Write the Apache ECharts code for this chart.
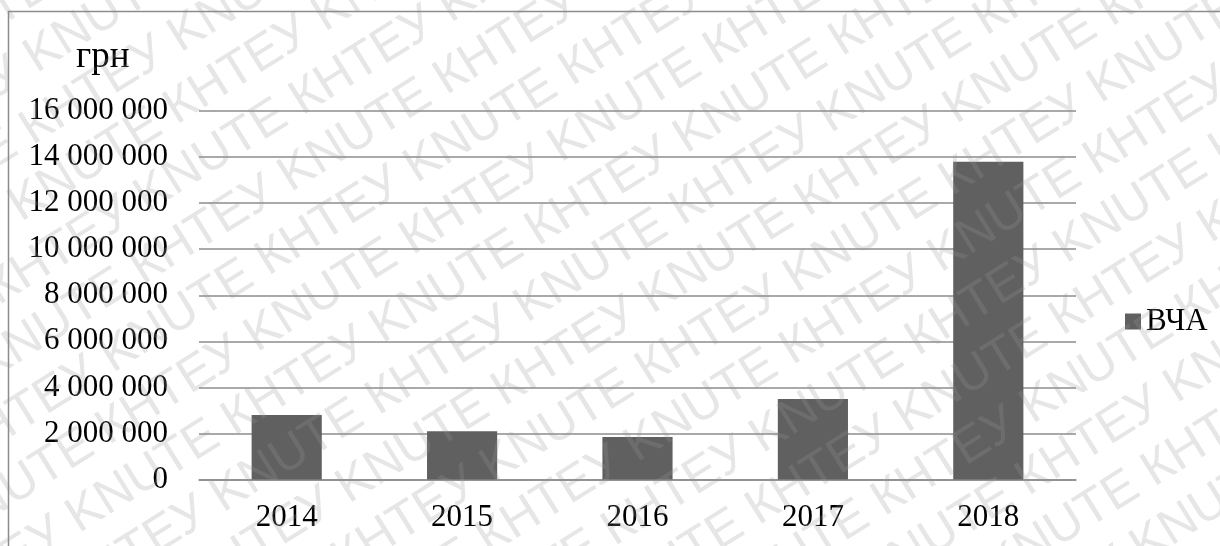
<!DOCTYPE html>
<html>
<head>
<meta charset="utf-8">
<script src="https://cdn.jsdelivr.net/npm/echarts@6/dist/echarts.min.js"></script>
<style>
html,body{margin:0;padding:0;background:#fff;}
#chart{width:1220px;height:546px;}
</style>
</head>
<body>
<div id="chart"></div>
<script>
var categories = ['2014', '2015', '2016', '2017', '2018'];
var seriesName = 'ВЧА';
var values = [2800000, 2100000, 1850000, 3500000, 13800000];
var yUnit = 'грн';
var yMin = 0, yMax = 16000000, yStep = 2000000;

function fmt(v) {
  return String(v).replace(/\B(?=(\d{3})+(?!\d))/g, ' ');
}

// watermark (decorative background text)
var wm = [];
var ang = 32 * Math.PI / 180;
var rowText = '';
for (var r = 0; r < 7; r++) rowText += 'KNUTE КНТЕУ ';
for (var k = 0; k < 32; k++) {
  var s = (k * 170) % 380;
  wm.push({
    type: 'text',
    x: -600 + s * Math.cos(ang),
    y: -200 + k * 69.5 - s * Math.sin(ang),
    rotation: ang,
    silent: true,
    z: 100,
    style: {
      text: rowText,
      fontSize: 50,
      fontFamily: 'Liberation Sans',
      fontWeight: 'normal',
      fill: 'rgba(150,150,150,0.24)'
    }
  });
}

var chart = echarts.init(document.getElementById('chart'), null, {renderer: 'canvas'});
var option = {
  backgroundColor: '#ffffff',
  animation: false,
  textStyle: {fontFamily: '"Liberation Serif", "Times New Roman", serif', color: '#000'},
  title: {
    text: yUnit,
    left: 71,
    top: 34,
    textStyle: {fontFamily: '"Liberation Serif", serif', fontSize: 37, fontWeight: 'normal', color: '#000'}
  },
  legend: {
    data: [seriesName],
    left: 1120,
    top: 301,
    icon: 'rect',
    itemWidth: 16,
    itemHeight: 16,
    itemGap: 6,
    textStyle: {fontFamily: '"Liberation Serif", serif', fontSize: 31, color: '#000'}
  },
  grid: {left: 199, right: 144, top: 111, bottom: 66.5, containLabel: false},
  xAxis: {
    type: 'category',
    data: categories,
    axisTick: {show: false},
    axisLine: {lineStyle: {color: '#8c8c8c', width: 1.5}},
    axisLabel: {fontFamily: '"Liberation Serif", serif', fontSize: 31, color: '#000', margin: 23}
  },
  yAxis: {
    type: 'value',
    min: yMin,
    max: yMax,
    interval: yStep,
    axisLine: {show: false},
    axisTick: {show: false},
    splitLine: {lineStyle: {color: '#8c8c8c', width: 1.5}},
    axisLabel: {fontFamily: '"Liberation Serif", serif', fontSize: 31, color: '#000', margin: 31, formatter: fmt}
  },
  series: [{
    name: seriesName,
    type: 'bar',
    data: values,
    barWidth: '40%',
    itemStyle: {color: '#606060'}
  }],
  graphic: [{
    type: 'rect',
    shape: {x: 8.5, y: 11.5, width: 1400, height: 800},
    silent: true,
    z: 101,
    style: {fill: null, stroke: '#8c8c8c', lineWidth: 1.5}
  }].concat(wm)
};
chart.setOption(option);
</script>
</body>
</html>
